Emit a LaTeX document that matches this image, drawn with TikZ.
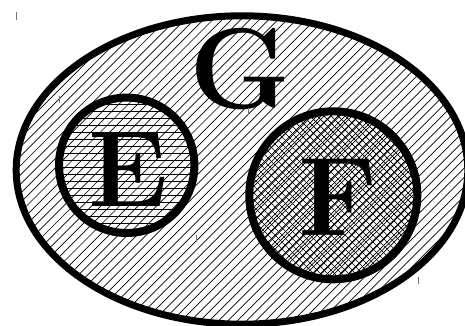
\documentclass[tikz,border=0pt]{standalone}
\begin{document}
\begin{tikzpicture}[x=1pt,y=-1pt,
  rim/.style={draw=black,line width=7pt},
  ring/.style={draw=black,line width=8pt},
  hatchline/.style={draw=black,line width=0.7pt},
  bigletter/.style={font=\fontsize{#1}{#1}\selectfont\bfseries,inner sep=0pt,anchor=base},
  tickmark/.style={draw=black!55,line width=1pt}]
\useasboundingbox (0,0) rectangle (465,326);
\clip (0,0) rectangle (465,326);
% outer set G: diagonal hatching
\begin{scope}
  \clip (242,170) ellipse [x radius=225.8pt, y radius=154.2pt];
  \foreach \i in {0,...,100} \draw[hatchline] ({\i*9.3},0) -- ({\i*9.3-400},400);
\end{scope}
% set E: horizontal hatching
\begin{scope}
  \clip (126.7,165.3) circle [radius=67.7pt];
  \foreach \i in {0,...,22} \draw[hatchline] (50,{97.5+\i*7}) -- (200,{97.5+\i*7});
\end{scope}
% set F: cross hatching
\begin{scope}
  \clip (333.3,195.3) circle [radius=84pt];
  \foreach \i in {0,...,80} {
    \draw[hatchline] ({200+\i*7},100) -- ({\i*7},300);
    \draw[hatchline] ({\i*7},100) -- ({200+\i*7},300);
  }
\end{scope}
% outlines
\path[rim] (242,170) ellipse [x radius=225.8pt, y radius=154.2pt];
\path[ring] (126.7,165.3) circle [radius=67.7pt];
\path[ring] (333.3,195.3) circle [radius=84pt];
% labels
\node[bigletter=115] (G) at (240.8,108) {G};
\node[bigletter=108] (E) at (128.3,206) {E};
\node[bigletter=112] (F) at (338.3,235) {F};
% small marks
\draw[tickmark] (16.5,12.5) -- (16.5,20);
\draw[tickmark] (59,96.5) -- (59,103.5);
\draw[tickmark] (248.3,108) -- (248.3,115);
\draw[tickmark] (196.7,234.5) -- (196.7,241.5);
\draw[tickmark] (418,277) -- (418,284);
\end{tikzpicture}
\end{document}
